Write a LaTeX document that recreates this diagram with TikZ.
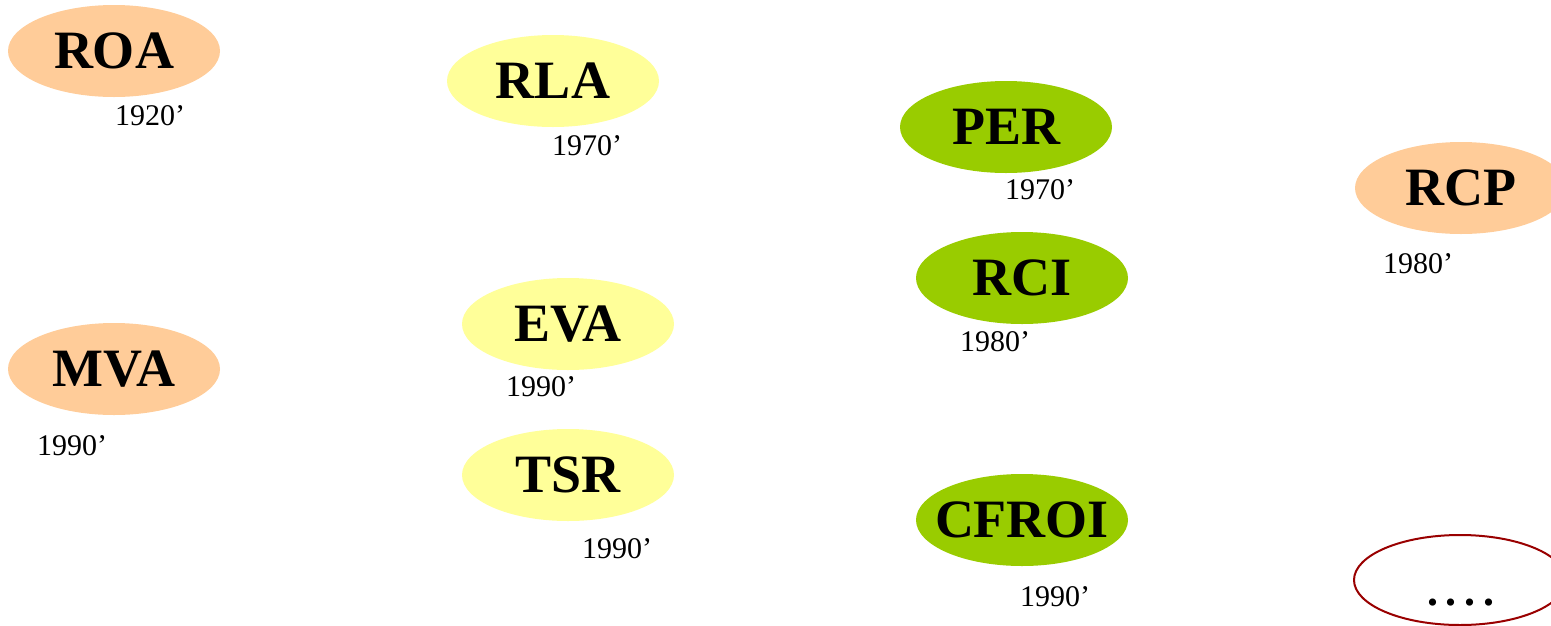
\documentclass[tikz,border=0pt]{standalone}
\usepackage{fontspec}
\setmainfont{Liberation Serif}
\usetikzlibrary{shapes.geometric}
\definecolor{corange}{HTML}{FFCC99}
\definecolor{cyellow}{HTML}{FFFF99}
\definecolor{cgreen}{HTML}{99CC00}
\definecolor{cdred}{HTML}{990000}
\tikzset{
  metric/.style={ellipse, minimum width=212pt, minimum height=92pt, inner xsep=-30pt, inner ysep=0pt,
    font=\fontsize{54}{60}\selectfont\bfseries, text=black},
  orangebox/.style={metric, fill=corange},
  yellowbox/.style={metric, fill=cyellow},
  greenbox/.style={metric, fill=cgreen},
  year/.style={font=\fontsize{30}{34}\selectfont, inner sep=0pt, text=black},
}
\begin{document}
\begin{tikzpicture}[x=1pt,y=-1pt]
\useasboundingbox (0,0) rectangle (1551,625);
\clip (0,0) rectangle (1551,625);
\node[orangebox] (roa) at (114,51) {ROA};
\node[yellowbox] (rla) at (553,81) {RLA};
\node[greenbox] (per) at (1006,127) {PER};
\node[orangebox] (rcp) at (1461,188) {RCP};
\node[greenbox] (rci) at (1022,278) {RCI};
\node[yellowbox] (eva) at (568,324) {EVA};
\node[orangebox] (mva) at (114,369) {MVA};
\node[yellowbox] (tsr) at (568,475) {TSR};
\node[greenbox] (cfroi) at (1022,520) {CFROI};
\node[ellipse, draw=cdred, line width=2pt, minimum width=212pt, minimum height=90pt, inner sep=0pt] (more) at (1460,580) {};
\node[font=\fontsize{44}{48}\selectfont\bfseries, inner sep=0pt, anchor=base] (dots) at (1461,605) {.\hspace{8pt}.\hspace{8pt}.\hspace{8pt}.};
\node[year] (yroa) at (150,116) {1920’};
\node[year] (yrla) at (587,146) {1970’};
\node[year] (yper) at (1040,190) {1970’};
\node[year] (yrcp) at (1418,264) {1980’};
\node[year] (yrci) at (995,342) {1980’};
\node[year] (yeva) at (541,387) {1990’};
\node[year] (ymva) at (72,446) {1990’};
\node[year] (ytsr) at (617,549) {1990’};
\node[year] (ycfroi) at (1055,597) {1990’};
\end{tikzpicture}
\end{document}
